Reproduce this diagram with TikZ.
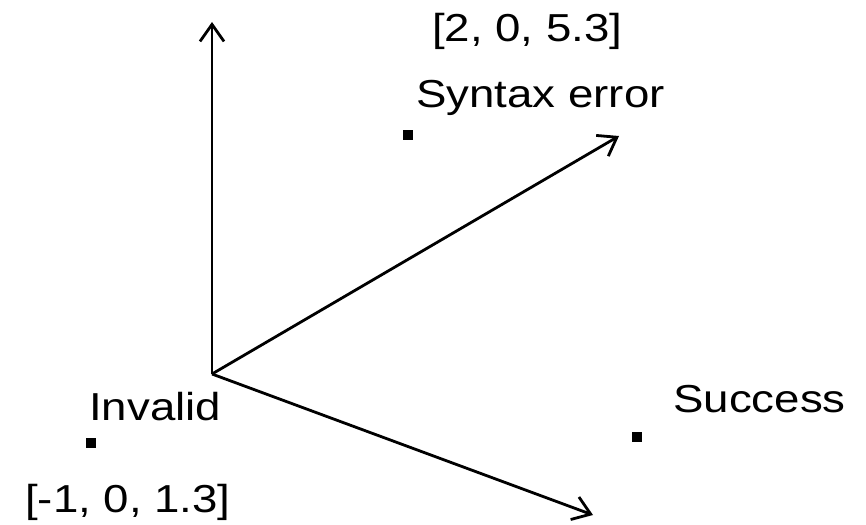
\documentclass[tikz,border=0pt]{standalone}
\usepackage{fontspec}
\setmainfont{Liberation Sans}
\usetikzlibrary{arrows.meta}
\begin{document}
\begin{tikzpicture}[x=1pt,y=-1pt,
  axis/.style={line width=2.8pt,-{Straight Barb[length=17pt,width=24pt,line width=2.8pt]}},
  pt/.style={fill=black,draw=none,rectangle,minimum size=10pt,inner sep=0pt},
  lbl/.style={anchor=base west,inner sep=0pt,font=\fontsize{39}{41}\selectfont}]
\useasboundingbox (0,0) rectangle (866,524);
\coordinate (O) at (212,374);
\coordinate (up) at (212,22);
\coordinate (r1) at (619,136);
\coordinate (r2) at (593,515);
\draw[axis] (O) -- (up);
\draw[axis] (O) -- (r1);
\draw[axis] (O) -- (r2);
\node[pt] (p1) at (408,135) {};
\node[pt] (p2) at (91,443) {};
\node[pt] (p3) at (637,437) {};
\node[lbl] (t1) at (432,42) {\scalebox{1.17}[1]{[2, 0, 5.3]}};
\node[lbl] (t2) at (416,107) {\scalebox{1.17}[1]{Syntax error}};
\node[lbl] (t3) at (89,420) {\scalebox{1.17}[1]{Invalid}};
\node[lbl] (t4) at (673,412) {\scalebox{1.17}[1]{Success}};
\node[lbl] (t5) at (25,512) {\scalebox{1.17}[1]{[-1, 0, 1.3]}};
\end{tikzpicture}
\end{document}
